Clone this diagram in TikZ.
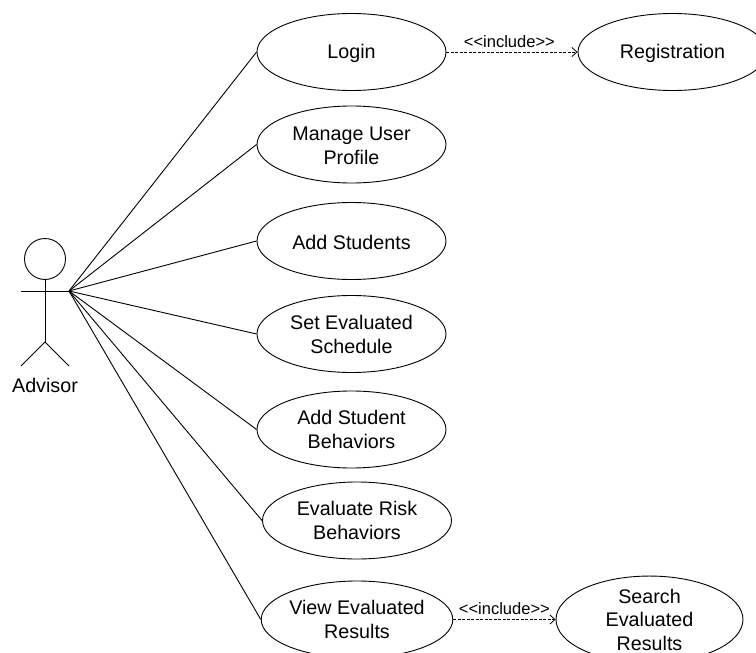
\documentclass[tikz,border=0pt]{standalone}
\usepackage{fontspec}
\setmainfont{Liberation Sans}
\usetikzlibrary{shapes.geometric,arrows.meta}
\tikzset{
  x=1pt,y=-1pt,
  usecase/.style={draw,ellipse,inner sep=0pt,line width=0.9pt,align=center,font=\fontsize{19.7}{24}\selectfont,minimum width=189pt,minimum height=77pt},
  assoc/.style={draw,line width=0.9pt},
  incl/.style={draw,line width=0.8pt,dash pattern=on 3pt off 1.5pt,-{Straight Barb[length=5pt,width=9pt]}},
  stereo/.style={font=\fontsize{16.5}{20}\selectfont,inner sep=0pt}
}
\begin{document}
\begin{tikzpicture}
\useasboundingbox (0,0) rectangle (756,653);
\begin{scope}
\clip (0,0) rectangle (756,653);
\node[usecase] (login) at (351.5,52) {\rule{0pt}{17pt}Login};
\node[usecase] (reg) at (672.5,52) {\rule{0pt}{17pt}Registration};
\node[usecase] (manage) at (351.5,144.5) {\rule{0pt}{17pt}Manage User\\Profile};
\node[usecase] (add) at (351.5,241) {\rule{0pt}{17pt}Add Students};
\node[usecase] (sched) at (351.5,334) {\rule{0pt}{14pt}Set Evaluated\\Schedule};
\node[usecase] (behav) at (351.5,429.5) {\rule{0pt}{14pt}Add Student\\Behaviors};
\node[usecase] (risk) at (357,520.5) {\rule{0pt}{14pt}Evaluate Risk\\Behaviors};
\node[usecase] (view) at (357,619.5) {\rule{0pt}{14pt}View Evaluated\\Results};
\node[usecase,minimum width=187pt,font=\fontsize{19.7}{23.5}\selectfont] (search) at (649.5,619.5) {\rule{0pt}{13pt}Search\\Evaluated\\Results};
\end{scope}
% actor
\node[draw,circle,line width=0.9pt,minimum size=41pt,inner sep=0pt] (head) at (45,259) {};
\coordinate (hip) at (45,342);
\coordinate (larm) at (21,291);
\coordinate (hub) at (69,291);
\coordinate (lleg) at (21,366);
\coordinate (rleg) at (69,366);
\draw[assoc] (head.south) -- (hip);
\draw[assoc] (larm) -- (hub);
\draw[assoc] (lleg) -- (hip) -- (rleg);
\node[font=\fontsize{19.7}{24}\selectfont,inner sep=0pt] (advisor) at (45,385) {Advisor};
% associations
\draw[assoc] (hub) -- (login.west);
\draw[assoc] (hub) -- (manage.west);
\draw[assoc] (hub) -- (add.west);
\draw[assoc] (hub) -- (sched.west);
\draw[assoc] (hub) -- (behav.west);
\draw[assoc] (hub) -- (risk.west);
\draw[assoc] (hub) -- (view.west);
% includes
\draw[incl] (login.east) -- node[stereo,pos=0.48,above=4pt] (l1) {{<}{<}include{>}{>}} (reg.west);
\draw[incl] (view.east) -- node[stereo,pos=0.5,above=4pt] (l2) {{<}{<}include{>}{>}} (search.west);
\end{tikzpicture}
\end{document}
